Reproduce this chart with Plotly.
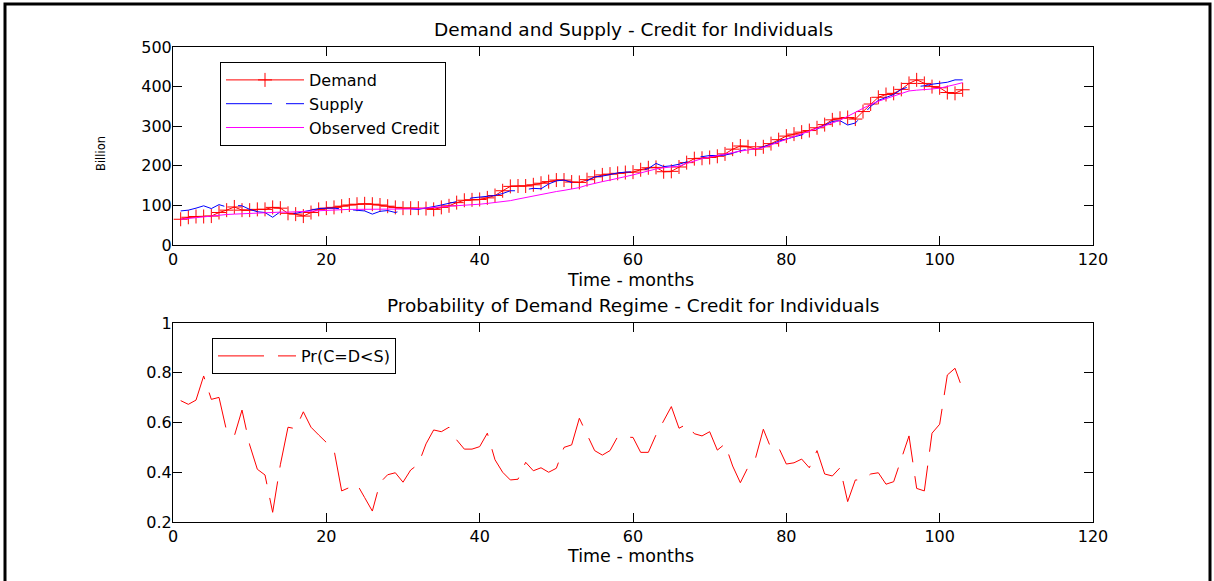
import plotly.graph_objects as go

# Monthly series (months 1..103)
months = list(range(1, 104))

demand = [
    65, 70, 72, 72, 73, 82, 88, 96, 88, 88,
    90, 90, 95, 93, 80, 78, 73, 82, 90, 93,
    95, 98, 101, 103, 104, 103, 101, 98, 95, 93,
    93, 93, 92, 90, 95, 99, 107, 113, 114, 115,
    119, 125, 137, 148, 149, 149, 152, 156, 160, 164,
    164, 159, 158, 165, 172, 177, 179, 181, 183, 184,
    190, 195, 196, 185, 186, 197, 208, 218, 219, 221,
    224, 230, 242, 250, 248, 242, 248, 256, 266, 275,
    280, 285, 289, 296, 304, 316, 320, 322, 318, 337,
    356, 373, 380, 383, 393, 408, 417, 408, 400, 397,
    385, 383, 392,
]

supply = [
    86, 88, 93, 99, 92, 102, 96, 100, 99, 90,
    84, 82, 70, 84, 80, 80, 84, 88, 92, 93,
    93, 91, 89, 88, 86, 78, 85, 87, 82, 88,
    91, 90, 93, 97, 101, 105, 109, 114, 119, 121,
    122, 125, 130, 137, 137, 140, 143, 142, 154, 162,
    164, 158, 160, 162, 172, 174, 178, 182, 184, 185,
    188, 193, 206, 198, 200, 204, 210, 222, 223, 226,
    226, 227, 232, 238, 242, 242, 248, 254, 262, 268,
    273, 278, 284, 293, 302, 312, 314, 303, 308, 328,
    350, 365, 372, 380, 393, 400, 400, 402, 406, 409,
    411, 417, 417,
]

observed = [
    65, 67, 70, 72, 74, 76, 77, 78, 79, 80,
    81, 82, 82, 83, 83, 84, 84, 85, 86, 88,
    89, 89, 90, 90, 90, 90, 90, 90, 90, 90,
    91, 92, 93, 94, 96, 98, 99, 100, 101, 103,
    105, 107, 109, 112, 116, 120, 124, 127, 131, 135,
    138, 141, 145, 151, 156, 160, 164, 168, 173, 177,
    182, 187, 192, 195, 197, 199, 206, 213, 218, 222,
    226, 229, 233, 237, 240, 243, 246, 253, 260, 267,
    273, 279, 286, 293, 300, 307, 315, 325, 335, 346,
    355, 363, 370, 377, 383, 389, 391, 392, 394, 396,
    400, 405, 410,
]

prob_demand = [
    0.688, 0.673, 0.690, 0.787, 0.693, 0.701, 0.565, 0.546, 0.650, 0.510,
    0.412, 0.389, 0.239, 0.430, 0.581, 0.575, 0.643, 0.581, 0.550, 0.522,
    0.490, 0.325, 0.340, 0.352, 0.298, 0.244, 0.358, 0.390, 0.398, 0.360,
    0.409, 0.432, 0.514, 0.570, 0.563, 0.581, 0.530, 0.493, 0.493, 0.503,
    0.557, 0.450, 0.400, 0.369, 0.372, 0.440, 0.406, 0.418, 0.400, 0.416,
    0.500, 0.510, 0.617, 0.550, 0.487, 0.469, 0.487, 0.543, 0.540, 0.540,
    0.480, 0.480, 0.550, 0.610, 0.664, 0.577, 0.593, 0.555, 0.546, 0.563,
    0.489, 0.514, 0.425, 0.358, 0.420, 0.459, 0.573, 0.496, 0.499, 0.433,
    0.438, 0.453, 0.418, 0.487, 0.393, 0.385, 0.418, 0.282, 0.369, 0.369,
    0.393, 0.398, 0.352, 0.362, 0.452, 0.546, 0.335, 0.325, 0.557, 0.593,
    0.791, 0.818, 0.733,
]

x_ticks = [0, 20, 40, 60, 80, 100, 120]
y1_ticks = [0, 100, 200, 300, 400, 500]
y2_ticks = [0.2, 0.4, 0.6, 0.8, 1.0]
y2_ticktext = ["0.2", "0.4", "0.6", "0.8", "1"]

W, H = 1214, 581
FONT = "DejaVu Sans"
DASH = "46px,14px"


def px_x(p):
    return p / W


def px_y(p):
    return 1 - p / H


fig = go.Figure()

fig.add_trace(go.Scatter(
    x=months, y=demand, name="Demand", mode="lines+markers",
    line=dict(color="#ff0000", width=1),
    marker=dict(symbol="cross-thin", size=10, color="#ff0000",
                line=dict(color="#ff0000", width=1)),
    xaxis="x", yaxis="y", legend="legend",
))
fig.add_trace(go.Scatter(
    x=months, y=supply, name="Supply", mode="lines",
    line=dict(color="#0000ff", width=1, dash=DASH),
    xaxis="x", yaxis="y", legend="legend",
))
fig.add_trace(go.Scatter(
    x=months, y=observed, name="Observed Credit", mode="lines",
    line=dict(color="#ff00ff", width=1),
    xaxis="x", yaxis="y", legend="legend",
))
fig.add_trace(go.Scatter(
    x=months, y=prob_demand, name="Pr(C=D<S)", mode="lines",
    line=dict(color="#ff0000", width=1, dash=DASH),
    xaxis="x2", yaxis="y2", legend="legend2",
))

axis_common = dict(
    showline=True, linecolor="black", linewidth=1, mirror="allticks",
    ticks="inside", ticklen=9, tickwidth=1, tickcolor="black",
    showgrid=False, zeroline=False, automargin=False,
    tickfont=dict(family=FONT, size=16, color="black"),
)

x_dom = [px_x(173), px_x(1093)]

legend_common = dict(
    xanchor="left", yanchor="top",
    bgcolor="white", bordercolor="black", borderwidth=1,
    font=dict(family=FONT, size=16, color="black"),
    itemwidth=78,
)

fig.update_layout(
    width=W, height=H,
    margin=dict(l=0, r=0, t=0, b=0, pad=0, autoexpand=False),
    paper_bgcolor="white", plot_bgcolor="white",
    font=dict(family=FONT, size=16, color="black"),
    xaxis=dict(domain=x_dom, range=[0, 120], tickvals=x_ticks, anchor="y",
               ticklabelstandoff=0, **axis_common),
    yaxis=dict(domain=[px_y(245), px_y(47)], range=[0, 500], tickvals=y1_ticks,
               anchor="x", ticklabelstandoff=-3, **axis_common),
    xaxis2=dict(domain=x_dom, range=[0, 120], tickvals=x_ticks, anchor="y2",
                ticklabelstandoff=0, **axis_common),
    yaxis2=dict(domain=[px_y(522), px_y(323)], range=[0.2, 1], tickvals=y2_ticks,
                ticktext=y2_ticktext, anchor="x2", ticklabelstandoff=-3, **axis_common),
    legend=dict(x=px_x(220), y=px_y(62), **legend_common),
    legend2=dict(x=px_x(212), y=px_y(338), **legend_common),
    showlegend=True,
)

annotations = [
    dict(text="Demand and Supply - Credit for Individuals", x=px_x(633), y=px_y(30), size=18.5),
    dict(text="Probability of Demand Regime - Credit for Individuals", x=px_x(633), y=px_y(305), size=18.5),
    dict(text="Time - months", x=px_x(630), y=px_y(280), size=17.5),
    dict(text="Time - months", x=px_x(630), y=px_y(556), size=17.5),
]
for a in annotations:
    fig.add_annotation(text=a["text"], x=a["x"], y=a["y"],
                       xref="paper", yref="paper", xanchor="center", yanchor="middle",
                       showarrow=False, font=dict(family=FONT, size=a["size"], color="black"))
fig.add_annotation(text="Billion", xref="paper", yref="paper", x=px_x(101), y=px_y(153),
                   xanchor="center", yanchor="middle", textangle=-90, showarrow=False,
                   font=dict(family=FONT, size=11.5, color="black"))

# outer frame
fig.add_shape(type="rect", xref="paper", yref="paper",
              x0=px_x(5), x1=px_x(1210), y0=-0.05, y1=px_y(4),
              line=dict(color="black", width=3), fillcolor="rgba(0,0,0,0)")

fig.write_html("out.html")
